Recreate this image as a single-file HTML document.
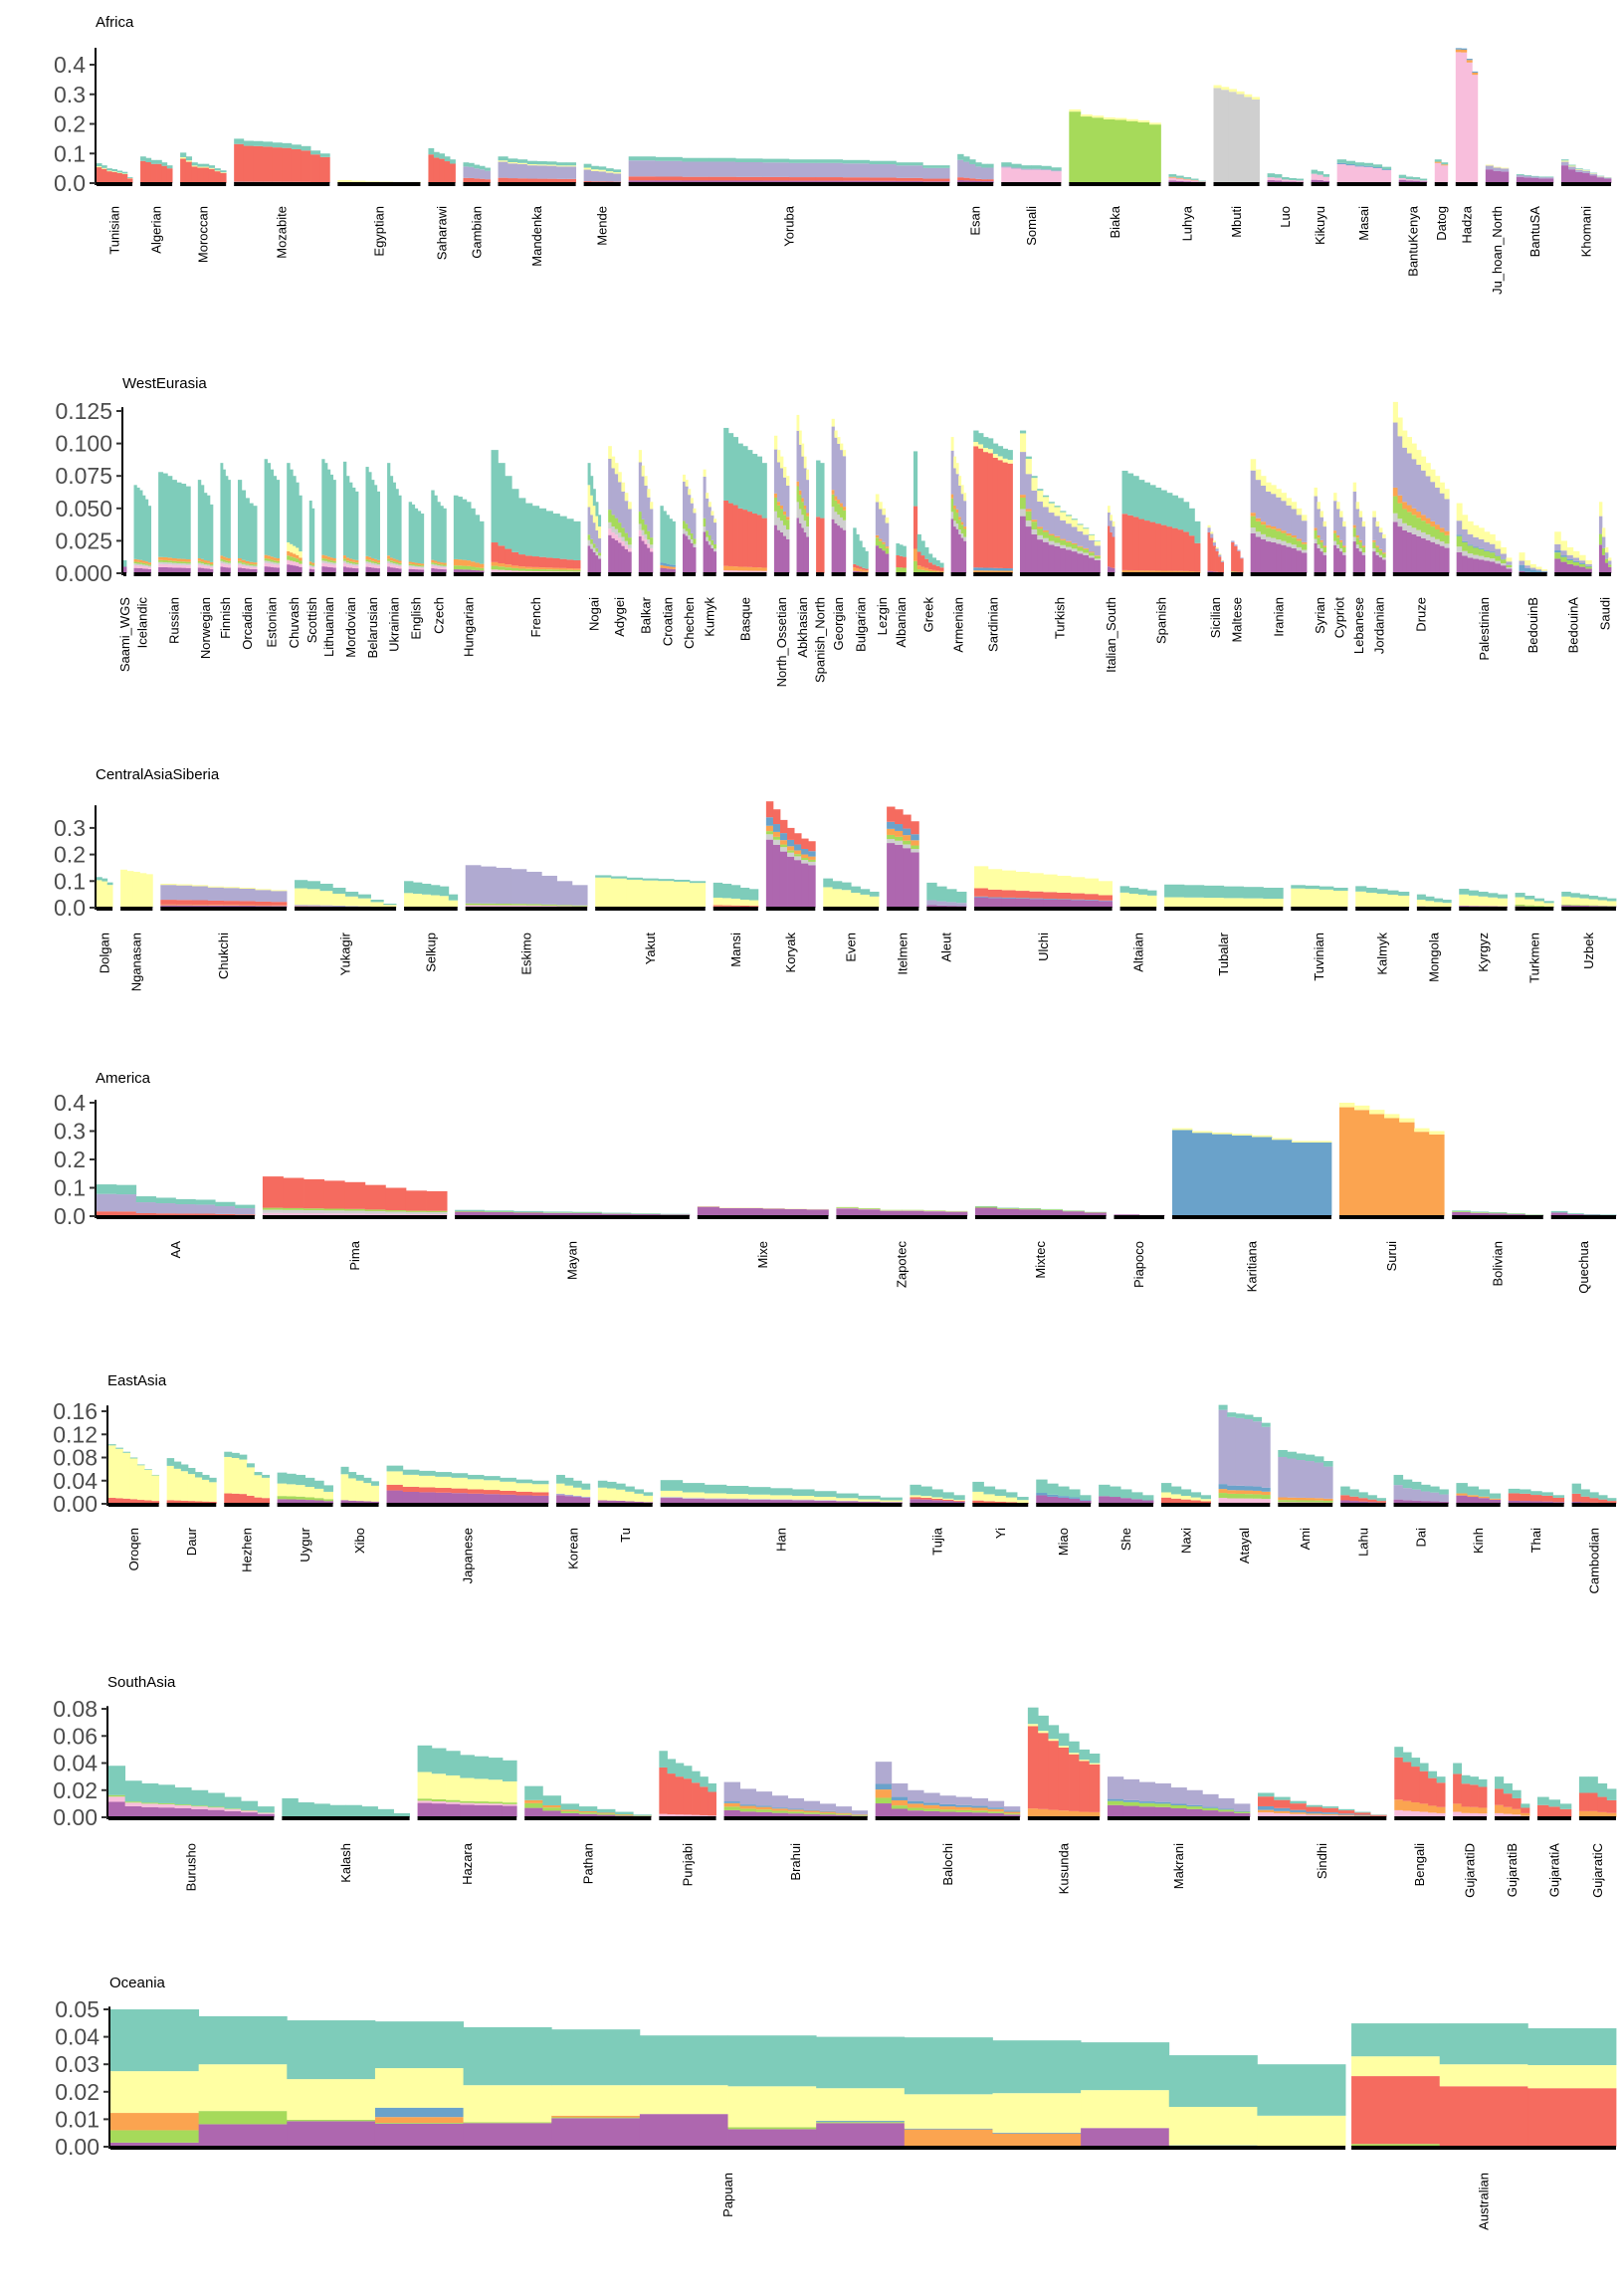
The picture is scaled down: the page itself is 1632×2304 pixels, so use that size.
<!DOCTYPE html>
<html><head><meta charset="utf-8"><title>Ancestry bars by region</title>
<style>
html,body{margin:0;padding:0;background:#fff;}
svg{display:block;font-family:"Liberation Sans",Arial,sans-serif;}
</style></head>
<body>
<svg id="chart" xmlns="http://www.w3.org/2000/svg" width="1632" height="2304" viewBox="0 0 1632 2304">
<rect x="0" y="0" width="1632" height="2304" fill="#fff"/>
</svg>
<script>
const COLORS = {pu:'#AE67AF', pk:'#F8BEDC', gy:'#CFCFCF', gr:'#A6DA5A', or:'#FBA450', bl:'#6AA2CA', rd:'#F56B5F', lv:'#B0AAD1', ye:'#FFFFA3', tl:'#7ECCBA'};
const ORDER = ['pu','pk','gy','gr','or','bl','rd','lv','ye','tl'];

/* ---------- Africa ---------- */
const africaLabels = ['Tunisian','Algerian','Moroccan','Mozabite','Egyptian','Saharawi','Gambian','Mandenka','Mende','Yoruba','Esan','Somali','Biaka','Luhya','Mbuti','Luo','Kikuyu','Masai','BantuKenya','Datog','Hadza','Ju_hoan_North','BantuSA','Khomani'];
const africaN = [36,32,46,96,83,27,27,78,37,322,36,60,92,37,46,36,18,54,28,13,22,23,37,50];
const africaHeights = [
 [0.067,0.06,0.05,0.047,0.042,0.038,0.02],
 [0.09,0.085,0.078,0.078,0.07,0.06],
 [0.103,0.09,0.07,0.065,0.065,0.06,0.05,0.043],
 [0.15,0.143,0.142,0.14,0.137,0.135,0.13,0.125,0.11,0.1],
 [0.01,0.008,0.006,0.005,0.004,0.004],
 [0.118,0.105,0.1,0.09,0.08],
 [0.07,0.068,0.062,0.058,0.052],
 [0.09,0.083,0.08,0.075,0.074,0.073,0.07,0.07],
 [0.065,0.058,0.056,0.05,0.046],
 [0.09,0.088,0.085,0.085,0.083,0.082,0.08,0.08,0.078,0.075,0.07,0.06],
 [0.098,0.09,0.08,0.07,0.065,0.065],
 [0.07,0.065,0.06,0.06,0.058,0.053],
 [0.249,0.232,0.228,0.222,0.22,0.216,0.212,0.204],
 [0.03,0.025,0.02,0.015,0.008],
 [0.331,0.325,0.318,0.31,0.3,0.291],
 [0.033,0.03,0.02,0.017,0.015],
 [0.045,0.04,0.03],
 [0.08,0.075,0.07,0.068,0.063,0.055],
 [0.028,0.022,0.02,0.015],
 [0.08,0.07],
 [0.456,0.455,0.42,0.377],
 [0.062,0.055,0.052],
 [0.03,0.027,0.024,0.022,0.022],
 [0.08,0.062,0.05,0.045,0.035,0.025,0.02]
];
const africaComp = [
 {rd:.8,ye:.05,tl:.15},{bl:.03,rd:.8,tl:.17},{rd:.8,ye:.05,tl:.15},{bl:.03,rd:.85,tl:.12},
 {gr:.2,or:.2,ye:.6},{bl:.02,rd:.8,tl:.18},{rd:.25,lv:.55,tl:.2},{rd:.2,lv:.6,ye:.05,tl:.15},
 {rd:.1,lv:.6,ye:.1,tl:.2},{pu:.1,rd:.15,lv:.6,tl:.15},{pu:.1,rd:.1,lv:.6,tl:.2},{pk:.75,lv:.05,tl:.2},
 {gr:.97,ye:.03},{pu:.3,pk:.3,or:.1,tl:.3},{gy:.97,ye:.03},{pu:.3,pk:.3,tl:.4},
 {pu:.25,pk:.45,tl:.3},{pk:.8,bl:.05,tl:.15},{pu:.4,pk:.2,tl:.4},{pk:.85,or:.05,tl:.1},
 {pk:.97,or:.02,bl:.01},{pu:.75,lv:.2,ye:.05},{pu:.7,lv:.2,tl:.1},{pu:.75,lv:.15,tl:.05,ye:.05}
];
const africaTicks = [0,0.1,0.2,0.3,0.4];

/* ---------- WestEurasia ---------- */
const weLabels = ['Saami_WGS','Icelandic','Russian','Norwegian','Finnish','Orcadian','Estonian','Chuvash','Scottish','Lithuanian','Mordovian','Belarusian','Ukrainian','English','Czech','Hungarian','French','Nogai','Adygei','Balkar','Croatian','Chechen','Kumyk','Basque','North_Ossetian','Abkhasian','Spanish_North','Georgian','Bulgarian','Lezgin','Albanian','Greek','Armenian','Sardinian','Turkish','Italian_South','Spanish','Sicilian','Maltese','Iranian','Syrian','Cypriot','Lebanese','Jordanian','Druze','Palestinian','BedouinB','BedouinA','Saudi'];
const weN = [3,17,32,15,10,19,15,15,5,14,15,14,14,15,15,30,89,13,23,14,15,13,13,43,15,12,8,14,15,13,10,30,15,39,80,7,78,16,12,56,12,12,12,13,56,55,28,37,12];
const weHeights = [
 [0.01],
 [0.068,0.066,0.064,0.06,0.057,0.052],
 [0.078,0.077,0.075,0.072,0.07,0.069,0.067],
 [0.072,0.068,0.062,0.06,0.053],
 [0.085,0.08,0.075,0.072],
 [0.072,0.064,0.058,0.054,0.052],
 [0.088,0.085,0.08,0.075,0.072],
 [0.085,0.08,0.075,0.07,0.06],
 [0.056,0.05],
 [0.088,0.085,0.08,0.076,0.072],
 [0.086,0.075,0.07,0.066,0.063],
 [0.082,0.078,0.072,0.068,0.063],
 [0.085,0.075,0.07,0.065,0.06],
 [0.055,0.053,0.05,0.048,0.046],
 [0.064,0.06,0.055,0.052,0.05],
 [0.06,0.059,0.057,0.055,0.05,0.045,0.04],
 [0.095,0.085,0.075,0.065,0.058,0.054,0.052,0.05,0.048,0.046,0.044,0.042,0.04],
 [0.085,0.075,0.065,0.055,0.045],
 [0.098,0.09,0.085,0.078,0.07,0.062,0.055],
 [0.095,0.083,0.075,0.065,0.055],
 [0.052,0.048,0.045,0.042,0.04],
 [0.076,0.072,0.065,0.058,0.05],
 [0.08,0.062,0.055,0.048,0.042],
 [0.112,0.108,0.105,0.1,0.098,0.095,0.092,0.09,0.085],
 [0.106,0.095,0.09,0.082,0.075],
 [0.122,0.11,0.1,0.09,0.08],
 [0.087,0.085],
 [0.119,0.11,0.105,0.1,0.095],
 [0.035,0.03,0.025,0.02,0.017],
 [0.061,0.055,0.05,0.043],
 [0.023,0.022,0.021],
 [0.094,0.03,0.025,0.02,0.015,0.012,0.01,0.008],
 [0.105,0.09,0.085,0.075,0.068,0.062],
 [0.11,0.108,0.105,0.104,0.1,0.098,0.096,0.095],
 [0.11,0.09,0.075,0.065,0.06,0.055,0.052,0.048,0.045,0.042,0.038,0.035,0.03,0.025],
 [0.052,0.045,0.04],
 [0.079,0.077,0.075,0.072,0.07,0.068,0.066,0.064,0.062,0.06,0.058,0.055,0.05,0.04],
 [0.037,0.032,0.025,0.02,0.015,0.01],
 [0.025,0.022,0.018,0.012],
 [0.088,0.08,0.075,0.07,0.068,0.065,0.062,0.058,0.055,0.05,0.045],
 [0.066,0.055,0.048,0.04],
 [0.062,0.055,0.048,0.04],
 [0.07,0.055,0.048,0.04],
 [0.048,0.04,0.035,0.03],
 [0.132,0.12,0.11,0.105,0.1,0.095,0.09,0.085,0.08,0.075,0.07,0.065],
 [0.054,0.045,0.04,0.037,0.035,0.032,0.03,0.025,0.02,0.012],
 [0.016,0.01,0.007,0.005,0.003],
 [0.032,0.025,0.02,0.017,0.014,0.01],
 [0.055,0.035,0.02,0.012]
];
const weNorth = {pu:.06,pk:.03,gy:.02,gr:.02,or:.03,tl:.84};
const weCauc = {pu:.3,pk:.05,gy:.05,gr:.1,lv:.4,ye:.1};
const weNE = {pu:.35,gy:.05,gr:.1,or:.03,lv:.37,ye:.1};
const weComp = [
 {pu:.5,tl:.5}, weNorth, weNorth, weNorth, weNorth, weNorth, weNorth,
 {pu:.08,pk:.04,gr:.04,or:.04,ye:.08,tl:.72}, weNorth, weNorth, weNorth, weNorth, weNorth, weNorth, weNorth,
 {pu:.05,gr:.05,or:.08,tl:.82},
 {pk:.03,gr:.03,or:.03,rd:.16,tl:.75},
 {pu:.25,gy:.05,gr:.05,lv:.25,ye:.2,tl:.2},
 weCauc, weCauc,
 {pu:.08,or:.04,bl:.04,tl:.84},
 {pu:.4,gy:.05,gr:.08,lv:.4,ye:.07},
 {pu:.4,gy:.05,gr:.08,lv:.4,ye:.07},
 {pk:.02,or:.03,rd:.45,tl:.5},
 {pu:.35,gy:.1,gr:.1,or:.03,lv:.32,ye:.1},
 {pu:.35,gy:.1,gr:.1,or:.03,lv:.32,ye:.1},
 {rd:.5,tl:.5},
 {pu:.35,gy:.08,gr:.08,or:.03,lv:.41,ye:.05},
 {pu:.05,or:.08,rd:.07,tl:.8},
 {pu:.35,gr:.1,or:.03,lv:.42,ye:.1},
 {gr:.2,rd:.4,tl:.4},
 {gr:.1,or:.1,rd:.35,tl:.45},
 {pu:.4,gy:.05,gr:.1,or:.03,lv:.32,ye:.1},
 {or:.02,bl:.02,rd:.85,ye:.03,tl:.08},
 {pu:.4,gy:.05,gr:.08,or:.02,lv:.3,ye:.13,tl:.02},
 {pu:.1,rd:.6,lv:.2,ye:.1},
 {or:.03,rd:.55,tl:.42},
 {pu:.05,rd:.8,lv:.1,ye:.05},
 {gr:.05,rd:.9,lv:.05},
 weNE, weNE, weNE, weNE, weNE,
 {pu:.3,gy:.05,gr:.1,or:.05,lv:.38,ye:.12},
 {pu:.3,gy:.08,gr:.15,bl:.02,lv:.2,ye:.25},
 {pu:.1,bl:.3,lv:.2,ye:.4},
 {pu:.35,gr:.15,bl:.05,lv:.15,ye:.3},
 {pu:.4,gr:.15,lv:.25,ye:.2}
];
const weTicks = [0,0.025,0.05,0.075,0.1,0.125];

/* ---------- CentralAsiaSiberia ---------- */
const casLabels = ['Dolgan','Nganasan','Chukchi','Yukagir','Selkup','Eskimo','Yakut','Mansi','Koryak','Even','Itelmen','Aleut','Ulchi','Altaian','Tubalar','Tuvinian','Kalmyk','Mongola','Kyrgyz','Turkmen','Uzbek'];
const casN = [15,30,118,95,50,114,103,42,46,52,30,37,129,34,111,53,50,32,45,36,51];
const casHeights = [
 [0.115,0.11,0.095],
 [0.143,0.138,0.135,0.13,0.126],
 [0.09,0.088,0.085,0.08,0.078,0.075,0.07,0.066],
 [0.104,0.1,0.09,0.075,0.06,0.05,0.03,0.015],
 [0.1,0.095,0.09,0.085,0.08,0.05],
 [0.16,0.155,0.15,0.145,0.135,0.12,0.1,0.085],
 [0.122,0.118,0.113,0.11,0.108,0.105,0.1],
 [0.094,0.09,0.085,0.075,0.07],
 [0.4,0.37,0.33,0.3,0.28,0.26,0.25],
 [0.11,0.1,0.095,0.08,0.07,0.06],
 [0.38,0.37,0.35,0.325],
 [0.094,0.08,0.07,0.06],
 [0.156,0.145,0.14,0.135,0.13,0.125,0.12,0.115,0.11,0.1],
 [0.081,0.075,0.07,0.065],
 [0.087,0.085,0.083,0.08,0.078,0.075],
 [0.085,0.083,0.08,0.075],
 [0.081,0.075,0.07,0.065,0.06],
 [0.05,0.042,0.035,0.03],
 [0.071,0.065,0.06,0.055,0.05],
 [0.056,0.045,0.035,0.025],
 [0.06,0.055,0.05,0.045,0.04,0.035]
];
const casComp = [
 {ye:.9,tl:.1},{bl:.02,ye:.98},{pu:.1,or:.03,rd:.2,lv:.62,ye:.05},{rd:.05,lv:.05,ye:.6,tl:.3},
 {ye:.55,tl:.45},{pk:.06,gr:.04,lv:.9},{bl:.03,ye:.9,tl:.07},{or:.05,rd:.05,ye:.3,tl:.6},
 {pu:.64,gy:.05,gr:.03,or:.05,bl:.08,rd:.15},{ye:.7,tl:.3},{pu:.64,gy:.04,gr:.04,or:.06,bl:.07,rd:.15},
 {pu:.1,lv:.2,tl:.7},{pu:.25,bl:.02,rd:.2,ye:.53},{ye:.7,tl:.3},{ye:.45,tl:.55},{ye:.85,tl:.15},
 {pu:.05,ye:.7,tl:.25},{pu:.1,ye:.5,tl:.4},{pu:.1,ye:.6,tl:.3},{pu:.1,gr:.1,ye:.5,tl:.3},{pu:.15,gr:.05,ye:.5,tl:.3}
];
const casTicks = [0,0.1,0.2,0.3];

/* ---------- America ---------- */
const amLabels = ['AA','Pima','Mayan','Mixe','Zapotec','Mixtec','Piapoco','Karitiana','Surui','Bolivian','Quechua'];
const amN = [151,176,224,125,125,125,48,152,100,87,62];
const amHeights = [
 [0.112,0.11,0.07,0.065,0.06,0.058,0.05,0.04],
 [0.14,0.135,0.13,0.125,0.12,0.11,0.1,0.09,0.088],
 [0.022,0.02,0.018,0.016,0.015,0.012,0.01,0.008],
 [0.035,0.03,0.03,0.028,0.026,0.025],
 [0.032,0.028,0.022,0.022,0.02,0.018],
 [0.035,0.03,0.028,0.025,0.02,0.015],
 [0.006,0.004],
 [0.31,0.3,0.295,0.29,0.285,0.275,0.265,0.265],
 [0.4,0.39,0.375,0.36,0.345,0.31,0.3],
 [0.02,0.016,0.014,0.01,0.006],
 [0.018,0.01,0.007,0.006]
];
const amComp = [
 {rd:.15,lv:.55,tl:.3},{pk:.08,gy:.08,gr:.05,rd:.79},{pu:.7,gr:.1,tl:.2},{pu:.95,ye:.05},
 {pu:.85,pk:.05,gr:.1},{pu:.85,gr:.1,tl:.05},{pu:1},{bl:.98,ye:.02},{or:.96,ye:.04},
 {pu:.7,gr:.15,tl:.15},{pu:.7,tl:.3}
];
const amTicks = [0,0.1,0.2,0.3,0.4];

/* ---------- EastAsia ---------- */
const eaLabels = ['Oroqen','Daur','Hezhen','Uygur','Xibo','Japanese','Korean','Tu','Han','Tujia','Yi','Miao','She','Naxi','Atayal','Ami','Lahu','Dai','Kinh','Thai','Cambodian'];
const eaN = [48,47,43,53,36,154,32,52,230,52,53,52,52,47,49,52,43,52,42,53,42];
const eaHeights = [
 [0.103,0.097,0.09,0.08,0.068,0.06,0.05],
 [0.079,0.073,0.068,0.062,0.055,0.05,0.045],
 [0.09,0.088,0.085,0.07,0.055,0.05],
 [0.054,0.052,0.05,0.045,0.04,0.032],
 [0.064,0.055,0.05,0.045,0.039],
 [0.066,0.059,0.057,0.055,0.053,0.05,0.048,0.045,0.042,0.04],
 [0.05,0.045,0.04,0.035],
 [0.04,0.038,0.035,0.03,0.025,0.02],
 [0.041,0.036,0.033,0.031,0.029,0.027,0.025,0.022,0.018,0.014,0.011],
 [0.033,0.03,0.025,0.02,0.015],
 [0.038,0.03,0.025,0.02,0.012],
 [0.042,0.035,0.03,0.025,0.015],
 [0.033,0.03,0.025,0.02,0.015],
 [0.036,0.03,0.025,0.02,0.015],
 [0.171,0.158,0.156,0.154,0.15,0.14],
 [0.093,0.09,0.087,0.085,0.082,0.074],
 [0.03,0.025,0.02,0.015,0.01],
 [0.05,0.042,0.038,0.033,0.03,0.025],
 [0.036,0.03,0.025,0.018],
 [0.026,0.025,0.022,0.02,0.015],
 [0.035,0.025,0.02,0.015,0.01]
];
const eaComp = [
 {rd:.1,ye:.88,tl:.02},{rd:.08,ye:.75,tl:.17},{rd:.2,ye:.7,tl:.1},{pu:.15,gr:.1,ye:.4,tl:.35},
 {pu:.1,ye:.7,tl:.2},{pu:.35,rd:.15,ye:.35,tl:.15},{pu:.3,lv:.05,ye:.35,tl:.3},{pu:.15,ye:.55,tl:.3},
 {pu:.25,gy:.05,ye:.25,tl:.45},{pu:.25,rd:.1,ye:.1,tl:.55},{rd:.15,ye:.4,tl:.45},{pu:.35,bl:.1,tl:.55},
 {pu:.4,tl:.6},{rd:.3,ye:.25,tl:.45},{pk:.06,gr:.05,or:.04,bl:.05,lv:.75,tl:.05},{pk:.03,gr:.04,or:.05,lv:.75,tl:.13},
 {pu:.2,rd:.3,tl:.5},{pu:.15,lv:.5,tl:.35},{pu:.4,or:.1,tl:.5},{pu:.2,rd:.5,tl:.3},{pu:.1,rd:.4,tl:.5}
];
const eaTicks = [0,0.04,0.08,0.12,0.16];

/* ---------- SouthAsia ---------- */
const saLabels = ['Burusho','Kalash','Hazara','Pathan','Punjabi','Brahui','Balochi','Kusunda','Makrani','Sindhi','Bengali','GujaratiD','GujaratiB','GujaratiA','GujaratiC'];
const saN = [157,121,94,120,54,136,137,68,135,122,48,32,33,32,35];
const saHeights = [
 [0.038,0.027,0.025,0.024,0.022,0.02,0.018,0.015,0.012,0.008],
 [0.014,0.011,0.01,0.009,0.009,0.008,0.006,0.003],
 [0.053,0.051,0.049,0.046,0.045,0.044,0.042],
 [0.023,0.016,0.01,0.008,0.006,0.004,0.002],
 [0.049,0.043,0.04,0.038,0.034,0.03,0.025],
 [0.026,0.021,0.019,0.016,0.014,0.012,0.01,0.008,0.005],
 [0.041,0.025,0.02,0.018,0.016,0.015,0.014,0.012,0.008],
 [0.081,0.075,0.068,0.062,0.056,0.05,0.047],
 [0.03,0.028,0.026,0.025,0.022,0.02,0.017,0.014,0.01],
 [0.018,0.015,0.012,0.009,0.008,0.006,0.004,0.002],
 [0.052,0.048,0.044,0.04,0.034,0.03],
 [0.04,0.031,0.03,0.028],
 [0.03,0.025,0.02,0.01],
 [0.015,0.013,0.01],
 [0.03,0.03,0.025,0.021]
];
const saComp = [
 {pu:.3,pk:.1,gr:.03,tl:.57},{bl:.05,tl:.95},{pu:.2,pk:.03,gr:.03,ye:.37,tl:.37},{pu:.3,gr:.15,or:.1,tl:.45},
 {pk:.05,rd:.7,tl:.25},{pu:.2,gr:.1,or:.1,bl:.05,lv:.55},{pu:.25,gr:.1,or:.15,bl:.1,lv:.4},{or:.08,rd:.75,ye:.02,tl:.15},
 {pu:.3,gr:.1,bl:.05,lv:.55},{pk:.2,or:.1,bl:.15,rd:.4,tl:.15},{pk:.1,or:.15,rd:.6,tl:.15},{pk:.1,or:.15,rd:.55,tl:.2},
 {pk:.1,or:.2,rd:.4,tl:.3},{rd:.6,tl:.4},{or:.15,rd:.45,tl:.4}
];
const saTicks = [0,0.02,0.04,0.06,0.08];

/* ---------- Oceania (per-bar segments) ---------- */
const ocLabels = ['Papuan','Australian'];
const ocN = [14,3];
const ocPurple = [.0015,.0082,.0093,.0084,.0086,.0104,.0119,.0064,.0086,.0003,0,.0068,0,0, 0,0,0];
const ocGreen  = [.0045,.0048,.0005,.0003,.0003,.0003,0,.0007,.0004,0,0,0,0,0, .001,0,0];
const ocOrange = [.0063,0,0,.0021,0,.0006,0,0,0,.006,.0048,0,0,0, 0,0,0];
const ocBlue   = [0,0,0,.0034,0,0,0,0,.0004,.0003,.0003,0,.0005,0, 0,0,0];
const ocRed    = [0,0,0,0,0,0,0,0,0,0,0,0,0,0, .0247,.022,.0213];
const ocYellow = [.0152,.017,.0148,.0144,.0135,.0111,.0105,.0149,.0119,.0125,.0144,.0138,.014,.0113, .0072,.008,.0084];
const ocTeal   = [.0225,.0175,.0214,.017,.0211,.0203,.0181,.0185,.0187,.0207,.0192,.0174,.0188,.0187, .012,.0149,.0134];
const ocTicks = [0,0.01,0.02,0.03,0.04,0.05];

/* ---------- layout (geometry only) ---------- */
const LAYOUT = {
 africa:{title:'Africa', axisX:96, base:184, ppu:297.5, right:1619, titleY:27, labelY:207, gap:8, axisTop:0.457, dec:1},
 we:{title:'WestEurasia', axisX:123, base:576, ppu:1304, right:1619, titleY:390, labelY:600, gap:7.5, axisTop:0.128, dec:3},
 cas:{title:'CentralAsiaSiberia', axisX:96, base:912, ppu:267, right:1624, titleY:783, labelY:937, gap:8, axisTop:0.385, dec:1},
 am:{title:'America', axisX:96, base:1222, ppu:285, right:1624, titleY:1088, labelY:1247, gap:8, axisTop:0.41, dec:1},
 ea:{title:'EastAsia', axisX:108, base:1511, ppu:581, right:1624, titleY:1392, labelY:1535, gap:8, axisTop:0.17, dec:2},
 sa:{title:'SouthAsia', axisX:108, base:1826, ppu:1362, right:1624, titleY:1695, labelY:1852, gap:8, axisTop:0.082, dec:2},
 oc:{title:'Oceania', axisX:110, base:2157, ppu:2760, right:1624, titleY:1997, labelY:2183, gap:6, axisTop:0.051, dec:2}
};

const svg = document.getElementById('chart');
const NS = 'http://www.w3.org/2000/svg';
function el(tag, attrs, parent){
  const e = document.createElementNS(NS, tag);
  for (const k in attrs) e.setAttribute(k, attrs[k]);
  (parent||svg).appendChild(e);
  return e;
}
function sharesToBars(heights, comp){
  return heights.map(h => {
    let s = 0; for (const k in comp) s += comp[k];
    const o = {}; for (const k in comp) o[k] = h*comp[k]/s;
    return o;
  });
}

function drawPanel(key, labels, ns, barsPerGroup, ticks){
  const L = LAYOUT[key];
  const g = el('g', {});
  
  
  const yv = v => L.base - v*L.ppu;

  const t = el('text', {x:L.axisX, y:L.titleY, 'font-size':15, fill:'#000'}, g);
  t.textContent = L.title;
  
  

  const x0 = L.axisX + 1;
  const sumN = ns.reduce((a,b)=>a+b,0);
  const unit = (L.right - x0 - L.gap*(ns.length-1)) / sumN;
  let cum = 0;
  ns.forEach((n, i) => {
    const gx = x0 + cum*unit + i*L.gap;
    const gw = n*unit;
    cum += n;
    const grp = el('g', {}, g);
    
    
    const bars = barsPerGroup[i];
    const bw = gw / bars.length;
    bars.forEach((b, j) => {
      let acc = 0;
      ORDER.forEach(k => {
        const v = b[k] || 0;
        if (v <= 0) return;
        const r = el('rect', {x:(gx + j*bw).toFixed(2), y:yv(acc+v).toFixed(2), width:(bw+0.4).toFixed(2), height:(v*L.ppu).toFixed(2), fill:COLORS[k]}, grp);
        
        
        acc += v;
      });
    });
    const strip = el('rect', {x:gx.toFixed(2), y:L.base-1, width:gw.toFixed(2), height:4, fill:'#000'}, grp);
    
    
    const cx = gx + gw/2 + 4.5;
    const lab = el('text', {x:cx, y:L.labelY, 'font-size':13, fill:'#000', 'text-anchor':'end', transform:`rotate(-90 ${cx} ${L.labelY})`}, g);
    lab.textContent = labels[i];
    
    
  });

  const ax = el('line', {x1:L.axisX, x2:L.axisX, y1:L.base+2, y2:yv(L.axisTop), stroke:'#000', 'stroke-width':2}, g);
  
  
  ticks.forEach(v => {
    const tk = el('line', {x1:L.axisX-6, x2:L.axisX, y1:yv(v), y2:yv(v), stroke:'#333', 'stroke-width':2}, g);
    
    
    const tl = el('text', {x:L.axisX-10, y:yv(v)+8, 'font-size':23, fill:'#4d4d4d', 'text-anchor':'end'}, g);
    tl.textContent = v.toFixed(L.dec);
    
    
  });
}

drawPanel('africa', africaLabels, africaN, africaHeights.map((h,i)=>sharesToBars(h, africaComp[i])), africaTicks);
drawPanel('we', weLabels, weN, weHeights.map((h,i)=>sharesToBars(h, weComp[i])), weTicks);
drawPanel('cas', casLabels, casN, casHeights.map((h,i)=>sharesToBars(h, casComp[i])), casTicks);
drawPanel('am', amLabels, amN, amHeights.map((h,i)=>sharesToBars(h, amComp[i])), amTicks);
drawPanel('ea', eaLabels, eaN, eaHeights.map((h,i)=>sharesToBars(h, eaComp[i])), eaTicks);
drawPanel('sa', saLabels, saN, saHeights.map((h,i)=>sharesToBars(h, saComp[i])), saTicks);

const ocBars = ocPurple.map((_, i) => ({pu:ocPurple[i], gr:ocGreen[i], or:ocOrange[i], bl:ocBlue[i], rd:ocRed[i], ye:ocYellow[i], tl:ocTeal[i]}));
const ocGroups = []; let oi = 0;
ocN.forEach(n => { ocGroups.push(ocBars.slice(oi, oi+n)); oi += n; });
drawPanel('oc', ocLabels, ocN, ocGroups, ocTicks);
</script>
</body></html>
